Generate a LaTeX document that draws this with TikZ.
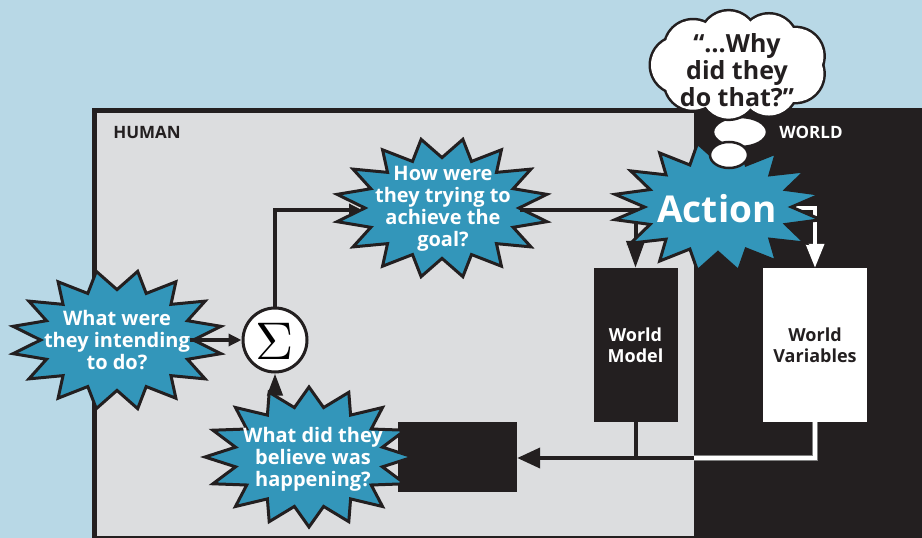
\documentclass[tikz,border=0pt]{standalone}
\usepackage{fontspec}
\setmainfont{Open Sans}
\usetikzlibrary{arrows.meta}
\definecolor{bgblue}{RGB}{184,216,230}
\definecolor{panelgray}{RGB}{220,221,223}
\definecolor{dark}{RGB}{35,31,32}
\definecolor{burstblue}{RGB}{51,150,186}
% center x, center y, rx, ry, points, samples (2n+1), depth, rotation
\newcommand{\burstshape}[8]{%
  \filldraw[burststy] plot[samples=#6, domain=0:360, variable=\t]
    ({#1+#3*(1-#7*(1-cos(#5*\t))/2)*cos(\t+#8)},{#2+#4*(1-#7*(1-cos(#5*\t))/2)*sin(\t+#8)}) -- cycle;}
\begin{document}
\begin{tikzpicture}[x=1pt,y=-1pt,
  burststy/.style={fill=burstblue, draw=dark, line width=3pt, line join=miter, miter limit=20},
  bursttext/.style={text=white, font=\bfseries\fontsize{20}{22}\selectfont, align=center, inner sep=0},
  conn/.style={draw=dark, line width=4pt},
  smalltip/.style={-{Triangle[length=13pt,width=12pt]}},
  label/.style={font=\bfseries\fontsize{17}{20}\selectfont, inner sep=0},
  boxtext/.style={font=\bfseries\fontsize{18}{21}\selectfont, align=center},
]
\useasboundingbox (0,0) rectangle (922,538);
\fill[bgblue] (0,0) rectangle (922,538);
% panels
\fill[panelgray] (92,108) rectangle (694,538);
\fill[dark] (694,108) rectangle (922,538);
\draw[dark, line width=5pt] (94.5,538) -- (94.5,110.5) -- (694,110.5);
\draw[dark, line width=1.5pt] (92,537) -- (694,537);
\node[label, text=dark] (human) at (147,132.5) {HUMAN};
\node[label, text=white] (world) at (811,132.5) {WORLD};

% boxes
\node[fill=dark, minimum width=119pt, minimum height=70pt, inner sep=0] (bbox) at (457.5,457) {};
\node[fill=dark, boxtext, text=white, minimum width=84pt, minimum height=154pt] (wm) at (635.5,345) {World\\Model};
\node[fill=white, boxtext, text=dark, minimum width=104pt, minimum height=154pt] (wv) at (815,345) {World\\Variables};

% sigma
\node[circle, draw=dark, fill=white, line width=3pt, minimum size=64pt, inner sep=0] (sigma) at (275,340) {};
\node[scale=5.3, inner sep=0] (sigsym) at (275,341) {$\Sigma$};

% connectors
\coordinate (intR) at (190,340);
\coordinate (howL) at (362,210);
\coordinate (howR) at (520,210);
\coordinate (actL) at (650,210);
\coordinate (actR) at (780,208);
\coordinate (belT) at (275,405);
\coordinate (bj) at (694,458);
\draw[conn, -{Triangle[length=22pt,width=15pt]}] (belT) -- (sigma.south);

% bursts (lower layer)
\burstshape{117}{340}{106}{70}{16}{33}{0.28}{11.25}
\node[bursttext] (intend) at (117,340) {What were\\they intending\\to do?};
\burstshape{442}{208}{107}{70}{16}{33}{0.28}{11.25}
\node[bursttext] (how) at (443,208.5) {How were\\they trying to\\achieve the\\goal?};
\burstshape{309}{457}{104}{70}{16}{33}{0.28}{0}
\node[bursttext] (believe) at (313,459) {What did they\\believe was\\happening?};

\draw[conn, smalltip] (intR) -- (sigma.west);
\draw[conn, smalltip] (sigma.north) |- (howL);
\draw[conn] (howR) -- (actL);
\draw[conn, -{Triangle[length=27pt,width=18pt]}] (wm.north |- actL) -- (wm.north);
\draw[draw=white, line width=4pt, -{Triangle[length=24pt,width=18pt]}] (actR) -| (wv.north);
\draw[conn] (wm.south) -- (wm.south |- bj);
\draw[draw=gray, line width=5.5pt] (wv.south) |- (bj);
\draw[draw=white, line width=3.5pt] (wv.south) |- (bj);
\draw[conn, -{Triangle[length=23pt,width=20pt]}] (bj) -- (bbox.east |- bj);

% action burst
\burstshape{718}{207}{105}{65}{16}{33}{0.3}{11.25}
\node[bursttext, font=\bfseries\fontsize{37}{40}\selectfont] (action) at (717,209) {Action};

% thought bubbles
\draw[dark, fill=white, line width=2.5pt] (740,132) ellipse [x radius=27, y radius=15];
\draw[dark, fill=white, line width=2.5pt] (729,155) ellipse [x radius=19, y radius=13];
% cloud
\foreach \a in {0,40,...,320} {
  \fill[dark] ({739+60*cos(\a+20)},{65+26*sin(\a+20)}) circle [radius=30.5];
}
\foreach \a in {0,40,...,320} {
  \fill[white] ({739+60*cos(\a+20)},{65+26*sin(\a+20)}) circle [radius=28];
}
\fill[white] (739,65) ellipse [x radius=64, y radius=30];
\node[font=\bfseries\fontsize{25}{27}\selectfont, text=dark, align=center, inner sep=0] (why) at (737,70) {“…Why\\did they\\do that?”};
\end{tikzpicture}
\end{document}
